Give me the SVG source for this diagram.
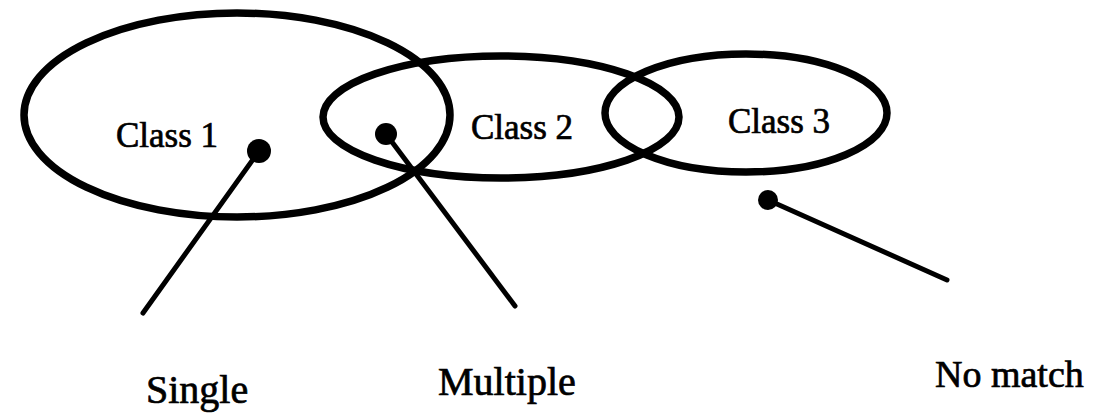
<svg xmlns="http://www.w3.org/2000/svg" width="1106" height="414" viewBox="0 0 1106 414">
<style>
.ring{fill:none;stroke:#000;stroke-width:7.5}
.lbl{font-family:"Liberation Serif","Times New Roman",serif;fill:#000;stroke:#000;stroke-width:0.7}
.cls{font-size:35px}
.out{font-size:40px}
.conn{stroke:#000;stroke-width:5;stroke-linecap:round}
.dot{fill:#000}
</style>
<rect width="1106" height="414" fill="#fff"/>
<g id="class1">
<ellipse class="ring" cx="237" cy="115" rx="213" ry="102"/>
<text class="lbl cls" x="116" y="147">Class 1</text>
</g>
<g id="class2">
<ellipse class="ring" cx="501" cy="117" rx="178" ry="61"/>
<text class="lbl cls" x="471" y="139">Class 2</text>
</g>
<g id="class3">
<ellipse class="ring" cx="746" cy="113" rx="141" ry="59"/>
<text class="lbl cls" x="728" y="133">Class 3</text>
</g>
<g id="connectors">
<line class="conn" x1="259" y1="151" x2="143" y2="313"/>
<line class="conn" x1="386" y1="134" x2="515" y2="306"/>
<line class="conn" x1="768" y1="200" x2="947" y2="280"/>
<circle class="dot" cx="259" cy="151" r="12"/>
<circle class="dot" cx="386" cy="134" r="11"/>
<circle class="dot" cx="768" cy="200" r="10"/>
</g>
<g id="single">
<text class="lbl out" x="146" y="403">Single</text>
</g>
<g id="multiple">
<text class="lbl out" x="438" y="395">Multiple</text>
</g>
<g id="nomatch">
<text class="lbl out" x="935" y="387" style="font-size:38px">No match</text>
</g>
</svg>
